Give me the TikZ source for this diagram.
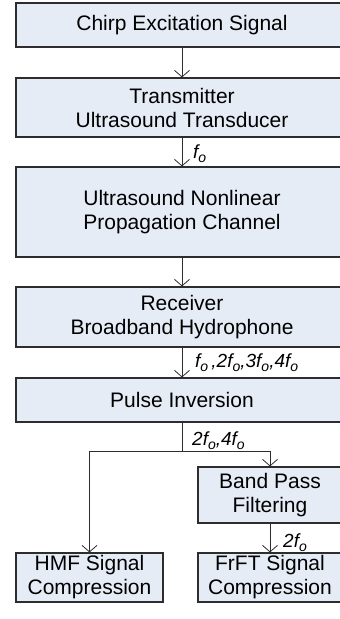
\documentclass[tikz,border=0pt]{standalone}
\usepackage{fontspec}
\setmainfont{Liberation Sans}
\usetikzlibrary{arrows.meta}
\definecolor{boxfill}{RGB}{230,236,246}
\definecolor{boxline}{RGB}{45,45,45}
\newcommand\subo{\raisebox{-0.22em}{\fontsize{14}{14}\selectfont o}}
\begin{document}
\begin{tikzpicture}[x=1pt,y=-1pt,
  blk/.style={draw=boxline, fill=boxfill, line width=1.2pt, align=center,
    inner sep=0pt, font=\fontsize{21}{24}\selectfont},
  conn/.style={draw=boxline, line width=0.8pt},
  arr/.style={conn, -{Straight Barb[length=6.5pt,width=15pt,line width=0.8pt]}},
  lbl/.style={anchor=west, inner sep=0pt, font=\fontsize{19}{21}\selectfont\itshape}]
\useasboundingbox (0,0) rectangle (340,619);
\clip (0,0) rectangle (340,619);
\node[blk, minimum width=332pt, minimum height=44pt] (b1) at (182,25) {Chirp Excitation Signal};
\node[blk, minimum width=332pt, minimum height=59pt] (b2) at (182,107.5) {Transmitter\\Ultrasound Transducer};
\node[blk, minimum width=332pt, minimum height=90pt] (b3) at (182,212) {Ultrasound Nonlinear\\Propagation Channel};
\node[blk, minimum width=332pt, minimum height=60pt] (b4) at (182,317) {Receiver\\Broadband Hydrophone};
\node[blk, minimum width=332pt, minimum height=44pt] (b5) at (182,400) {Pulse Inversion};
\node[blk, minimum width=144pt, minimum height=56pt] (bpf) at (270,495) {Band Pass\\Filtering};
\node[blk, minimum width=147pt, minimum height=49pt] (hmf) at (89.5,577.5) {HMF Signal\\Compression};
\node[blk, minimum width=144pt, minimum height=49pt] (frft) at (270,577.5) {FrFT Signal\\Compression};
\coordinate (j) at (182,451);
\draw[arr] (b1) -- (b2);
\draw[arr] (b2) -- (b3);
\draw[arr] (b3) -- (b4);
\draw[arr] (b4) -- (b5);
\draw[conn] (b5) -- (j);
\draw[arr] (j) -| (hmf.north);
\draw[arr] (j) -| (bpf.north);
\draw[arr] (bpf) -- (frft);
\node[lbl] (l1) at (193,154) {f\subo};
\node[lbl] (l2) at (195,363) {f\subo\,,2f\subo,3f\subo,4f\subo};
\node[lbl] (l3) at (192,441) {2f\subo,4f\subo};
\node[lbl] (l4) at (283,543) {2f\subo};
\end{tikzpicture}
\end{document}
